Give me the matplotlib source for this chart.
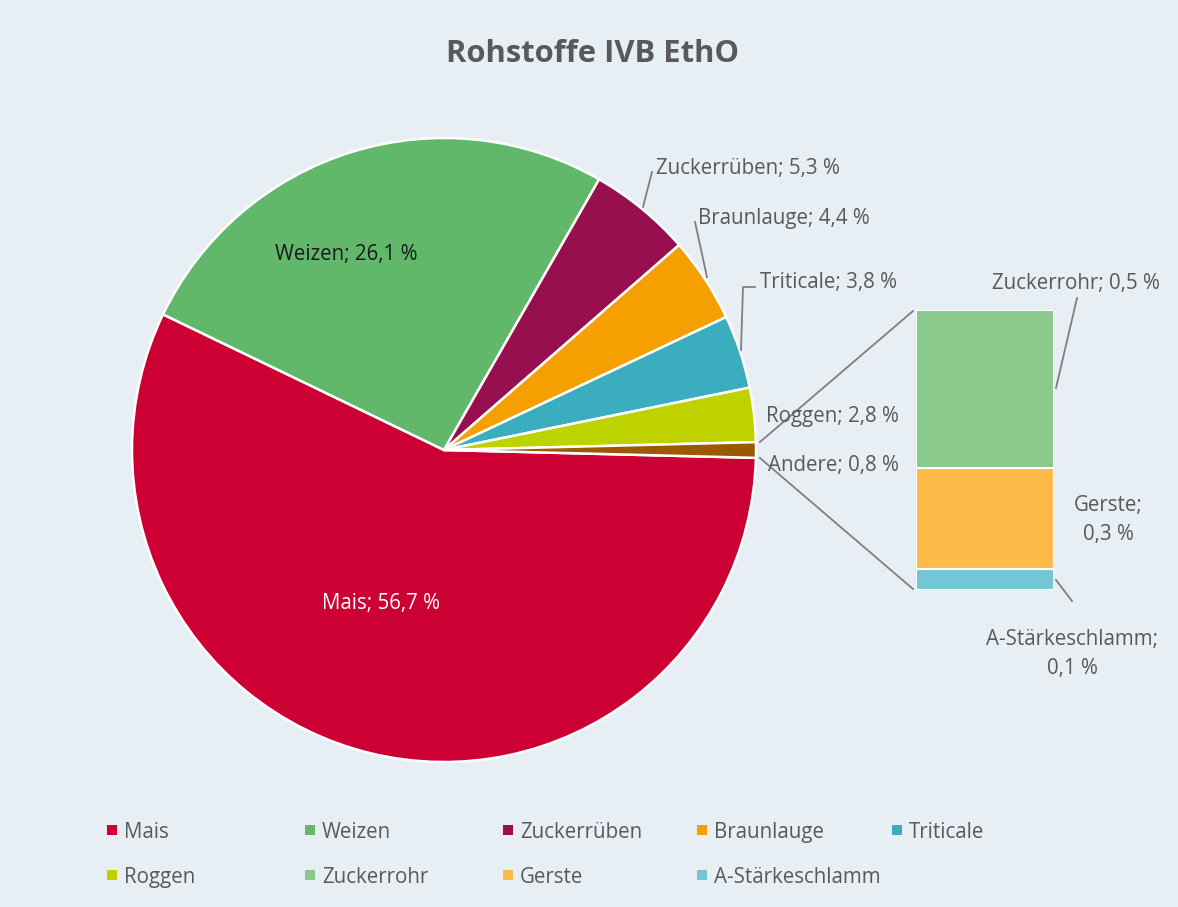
import numpy as np
import matplotlib
matplotlib.use("Agg")
import matplotlib.pyplot as plt

# Daten
pie_labels = ["Mais", "Weizen", "Zuckerrüben", "Braunlauge", "Triticale", "Roggen", "Andere"]
pie_values = [56.7, 26.1, 5.3, 4.4, 3.8, 2.8, 0.8]
pie_colors = ["#CC0033", "#62B86A", "#970F4E", "#F5A000", "#3AADBF", "#BED200", "#9C5A00"]

bar_labels = ["Zuckerrohr", "Gerste", "A-Stärkeschlamm"]
bar_values = [0.52, 0.33, 0.07]
bar_colors = ["#89C98C", "#FFBB4A", "#73C6D4"]

legend_labels = pie_labels[:-1] + bar_labels
legend_colors = pie_colors[:-1] + bar_colors

title = "Rohstoffe IVB EthO"

bg = "#E7EEF4"
c_text = "#595959"
c_line = "#7F7F7F"
plt.rcParams["font.family"] = ["Open Sans", "DejaVu Sans"]

W, H = 1178, 907
fig = plt.figure(figsize=(W / 100, H / 100), dpi=100)
fig.patch.set_facecolor(bg)

def fmt(v):
    return f"{v:.1f}".replace(".", ",") + " %"

# Torte
cx, cy, r = 444, 450, 312
ax_pie = fig.add_axes([(cx - r) / W, (H - cy - r) / H, 2 * r / W, 2 * r / H])
ax_pie.set_facecolor("none")
half = pie_values[-1] / sum(pie_values) * 360 / 2
ax_pie.pie(pie_values, colors=pie_colors, startangle=-half, counterclock=False,
           wedgeprops=dict(edgecolor="white", linewidth=1.8))
ax_pie.set_xlim(-1, 1)
ax_pie.set_ylim(-1, 1)
ax_pie.axis("off")

# Säule rechts
bx0, bx1, by0, by1 = 916, 1054, 310, 590
ax_bar = fig.add_axes([bx0 / W, (H - by1) / H, (bx1 - bx0) / W, (by1 - by0) / H])
ax_bar.set_facecolor("none")
bottom = 0
for v, c in zip(bar_values[::-1], bar_colors[::-1]):
    ax_bar.bar(0, v, bottom=bottom, width=1, color=c, edgecolor="white", linewidth=1.5)
    bottom += v
ax_bar.set_xlim(-0.5, 0.5)
ax_bar.set_ylim(0, sum(bar_values))
ax_bar.axis("off")

# Overlay in Pixelkoordinaten
ax = fig.add_axes([0, 0, 1, 1], zorder=5)
ax.set_xlim(0, W)
ax.set_ylim(H, 0)
ax.axis("off")
ax.patch.set_visible(False)

ax.text(593, 50, title, ha="center", va="center_baseline", fontsize=22.3,
        fontweight="bold", color=c_text)

fs = 14.8
va = "center_baseline"
# Beschriftungen Torte
ax.text(381, 601, f"{pie_labels[0]}; {fmt(pie_values[0])}", ha="center", va=va,
        fontsize=fs, color="white")
ax.text(346, 252, f"{pie_labels[1]}; {fmt(pie_values[1])}", ha="center", va=va,
        fontsize=fs, color="#1A1A1A")
outer_pos = [(656, 166), (698, 216), (760, 280), (766, 414), (768, 463)]
for (x, y), lab, v in zip(outer_pos, pie_labels[2:], pie_values[2:]):
    ax.text(x, y, f"{lab}; {fmt(v)}", ha="left", va=va, fontsize=fs, color=c_text)

# Beschriftungen Säule
ax.text(992, 281, f"{bar_labels[0]}; {fmt(bar_values[0])}", ha="left", va=va,
        fontsize=fs, color=c_text)
ax.text(1108, 520, f"{bar_labels[1]};\n{fmt(bar_values[1])}", ha="center", va="center",
        fontsize=fs, color=c_text, linespacing=1.45)
ax.text(1072, 654, f"{bar_labels[2]};\n{fmt(bar_values[2])}", ha="center", va="center",
        fontsize=fs, color=c_text, linespacing=1.45)

# Führungslinien
leaders = [
    [(643, 207), (652, 172)],
    [(707, 277), (695, 222)],
    [(741, 350), (743, 287), (755, 287)],
    [(1056, 388), (1077, 298)],
    [(1056, 580), (1072, 601)],
]
for pts in leaders:
    xs, ys = zip(*pts)
    ax.plot(xs, ys, color=c_line, lw=1.3)

# Verbindungslinien Torte -> Säule
R2 = r + 4
for a, (ex, ey) in [(half, (bx0 - 3, by0 + 1)), (-half, (bx0 - 3, by1 - 1))]:
    sx = cx + R2 * np.cos(np.radians(a))
    sy = cy - R2 * np.sin(np.radians(a))
    ax.plot([sx, ex], [sy, ey], color=c_line, lw=1.3)

# Legende
col_x = [112, 310, 508, 702, 897]
row_y = [830, 875]
for i, (lab, c) in enumerate(zip(legend_labels, legend_colors)):
    x = col_x[i % 5]
    y = row_y[i // 5]
    ax.scatter([x], [y], marker="s", s=60, color=c, linewidths=0)
    ax.text(x + 12, y, lab, ha="left", va=va, fontsize=fs, color=c_text)

fig.savefig("out.png", dpi=100, facecolor=bg)
